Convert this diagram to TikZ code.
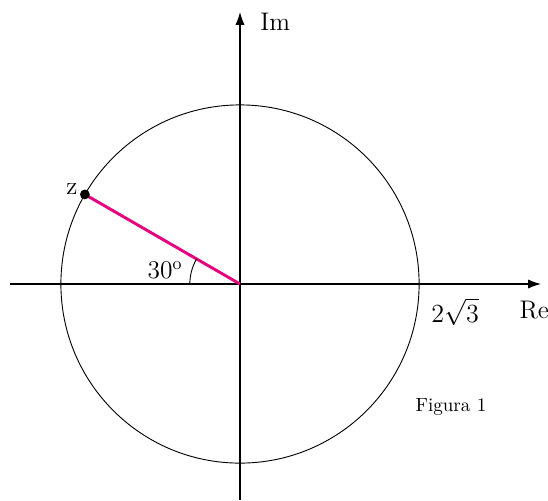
\documentclass[tikz,border=0pt]{standalone}
\usepackage{amsmath}
\usepackage{tikz}
\usetikzlibrary{arrows.meta}
\definecolor{zline}{RGB}{230,0,126}

\begin{document}
\begin{tikzpicture}[>={Latex[length=7pt,width=5pt]},
  axis/.style={->,line width=0.6pt},
  lbl/.style={font=\fontsize{14}{16}\selectfont}]
  \useasboundingbox (-4.642,-4.178) rectangle (5.957,5.493);
  \pgfmathsetmacro{\R}{2*sqrt(3)}
  % axes Re and Im
  \coordinate (O) at (0,0);
  \coordinate (reS) at (-4.45,0);
  \coordinate (reE) at (5.82,0);
  \coordinate (imS) at (0,-4.18);
  \coordinate (imE) at (0,5.26);
  \draw[axis] (reS) -- (reE);
  \draw[axis] (imS) -- (imE);
  \node[lbl] (re) at (5.69,-0.50) {Re};
  \node[lbl] (im) at (0.68,5.07) {Im};
  % circle of radius 2 sqrt 3
  \draw[line width=0.5pt] (O) circle (\R);
  \node[lbl] (rad) at (4.16,-0.54) {$2\sqrt{3}$};
  % z on the circle at 150 degrees
  \coordinate (z) at (150:\R);
  \draw[zline,line width=1.6pt] (O) -- (z);
  \fill (z) circle (2.7pt);
  \node[lbl] (zlbl) at (-3.25,1.84) {z};
  % angle of 30 degrees
  \draw[line width=0.5pt] (O) ++(180:0.97) arc (180:150:0.97);
  \node[lbl] (ang) at (-1.45,0.27) {30\textsuperscript{o}};
  \node[font=\fontsize{10.5}{12}\selectfont] (fig) at (4.08,-2.38) {Figura 1};
\end{tikzpicture}
\end{document}
